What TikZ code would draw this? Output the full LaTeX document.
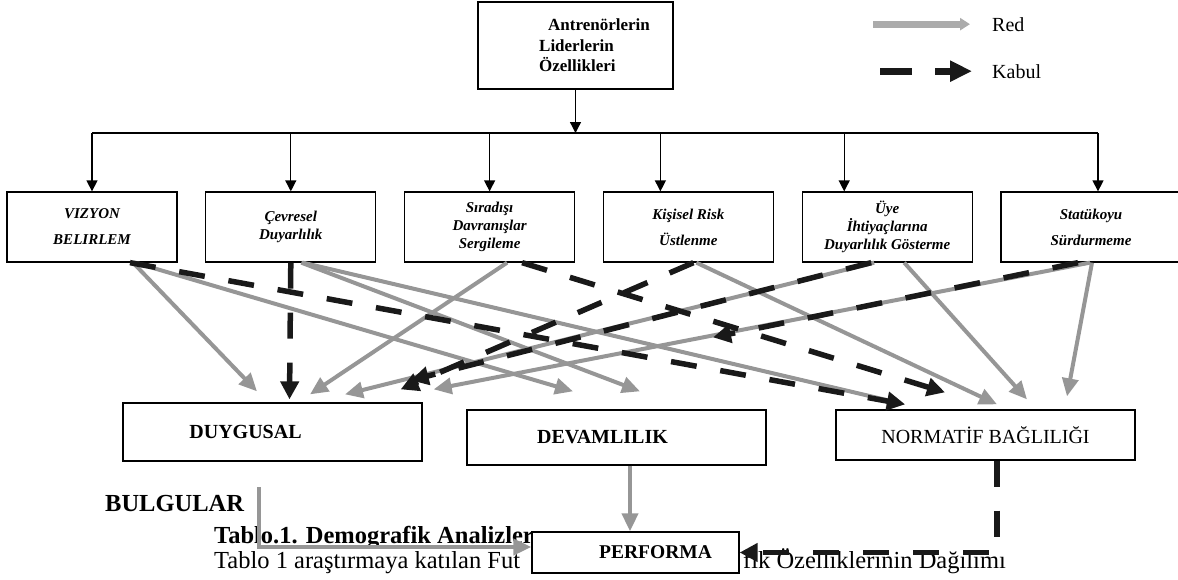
\documentclass[tikz,border=0pt]{standalone}
\usepackage{fontspec}
\setmainfont{Liberation Serif}
\usetikzlibrary{arrows.meta,positioning}
\definecolor{rejectgray}{RGB}{150,150,150}
\definecolor{acceptblack}{RGB}{25,25,25}

\begin{document}
\begin{tikzpicture}[x=1pt,y=-1pt,node distance=27.5pt,factor/.style={draw,line width=1.3pt,minimum width=170pt,minimum height=70pt,inner sep=2pt,align=center,font=\fontsize{15}{18}\selectfont\bfseries\itshape},outcome/.style={draw,line width=1.3pt,minimum width=299pt,inner sep=2pt,font=\fontsize{20}{24}\selectfont},drop/.style={-{Triangle[length=11pt,width=11pt]},line width=1.3pt},reject/.style={-{Triangle[length=18pt,width=16pt]},line width=4pt,draw=rejectgray},accept/.style={-{Triangle[length=18pt,width=18pt]},line width=5.5pt,draw=acceptblack,dash pattern=on 26pt off 24pt},page/.style={anchor=base west,inner sep=0pt,font=\fontsize{24.5}{30}\selectfont}]
\useasboundingbox (0,0) rectangle (1178,579);
\node[draw,line width=1.3pt,minimum width=195pt,minimum height=87pt,align=left,font=\fontsize{17}{20.5}\selectfont\bfseries] (lead) at (575.5,45.5) {\hspace*{47pt}Antrenörlerin\\\hspace*{38pt}Liderlerin\\\hspace*{38pt}Özellikleri};
\node[anchor=base west,inner sep=0pt,font=\fontsize{20}{24}\selectfont] (keyred) at (992,31) {Red};
\node[anchor=base west,inner sep=0pt,font=\fontsize{20}{24}\selectfont] (keykab) at (992,78) {Kabul};
\node[factor] (viz) at (92,227) {VIZYON\\[8pt]BELIRLEM};
\node[factor,right=of viz] (cev) {Çevresel\\Duyarlılık};
\node[factor,right=of cev] (sir) {Sıradışı\\Davranışlar\\Sergileme};
\node[factor,right=of sir] (kis) {Kişisel Risk\\[8pt]Üstlenme};
\node[factor,right=of kis] (uye) {Üye\\İhtiyaçlarına\\Duyarlılık Gösterme};
\node[factor,minimum width=180pt,right=of uye] (sta) {Statükoyu\\[8pt]Sürdurmeme};
\node[outcome,minimum height=58pt] (duy) at (272.5,432) {\bfseries DUYGUSAL\hspace*{54pt}};
\node[outcome,minimum height=55pt] (dev) at (616.5,437.5) {\bfseries DEVAMLILIK\hspace*{28pt}};
\node[outcome,minimum height=50pt] (norm) at (985.5,435) {NORMATİF BAĞLILIĞI};
\node[page,font=\fontsize{24.5}{30}\selectfont\bfseries] (bulg) at (105,511) {BULGULAR};
\node[page,font=\fontsize{24.5}{30}\selectfont\bfseries] (tabhead) at (214,543) {Tablo.1. Demografik Analizler};
\node[page] (tabtext) at (214,568) {Tablo 1 araştırmaya katılan Fut};
\node[page] (tabtail) at (743,568) {fik Özelliklerinin Dağılımı};
\node[draw,line width=1.3pt,fill=white,minimum width=207pt,minimum height=41pt,font=\fontsize{19.5}{23}\selectfont\bfseries] (perf) at (635.5,552.5) {\hspace*{40pt}PERFORMA};
\coordinate (bus) at (575,133);
\coordinate (gapstart) at (259,487);
% legend
\draw[reject,line width=7pt,draw=rejectgray!80,-{Triangle[length=10pt,width=12pt]}] ([xshift=-119pt]keyred.west) -- ([xshift=-22pt]keyred.west);
\draw[accept,line width=7pt,dash pattern=on 32pt off 23pt,-{Triangle[length=22pt,width=20pt]}] ([xshift=-112pt]keykab.west) -- ([xshift=-20pt]keykab.west);
% tree
\draw[drop] (lead) -- (lead |- bus);
\draw[line width=1.3pt] (viz.north |- bus) -- ([xshift=7pt]sta.north |- bus);
\foreach \n/\s in {viz/0,cev/0,sir/0,kis/-28,uye/-43,sta/7}{\draw[drop] ([xshift=\s pt]\n.north |- bus) -- ([xshift=\s pt]\n.north);}
% red
\draw[reject] ([xshift=41pt]viz.south) -- ([xshift=-15.5pt,yshift=11pt]duy.north);
\draw[reject] ([xshift=43pt]viz.south) -- ([xshift=-43.5pt,yshift=18pt]dev.north);
\draw[reject] ([xshift=10.5pt]cev.south) -- ([xshift=23.5pt,yshift=18pt]dev.north);
\draw[reject] ([xshift=12pt]cev.south) -- ([xshift=-80.5pt,yshift=5pt]norm.north);
\draw[reject] ([xshift=17.5pt]sir.south) -- ([xshift=37.5pt,yshift=8pt]duy.north);
\draw[reject] ([xshift=8pt]kis.south) -- ([xshift=11.5pt,yshift=5pt]norm.north);
\draw[reject] ([xshift=17pt]uye.south) -- ([xshift=41.5pt,yshift=10pt]norm.north);
\draw[reject] ([xshift=1pt]sta.south) -- ([xshift=81.5pt,yshift=13pt]norm.north);
\draw[reject] ([xshift=-1pt]sta.south) -- ([xshift=11pt,yshift=13pt]duy.north east);
\draw[reject] ([xshift=-13pt]uye.south) -- ([xshift=72.5pt,yshift=8pt]duy.north);
% kabul
\draw[accept] ([xshift=38pt]viz.south) -- ([xshift=-80.5pt,yshift=5pt]norm.north);
\draw[accept] (cev.south) -- ([xshift=17pt,yshift=3pt]duy.north);
\draw[accept] ([xshift=32.5pt]sir.south) -- ([xshift=-40.5pt,yshift=17pt]norm.north);
\draw[accept] ([xshift=5pt]kis.south) -- ([xshift=-22pt,yshift=13pt]duy.north east);
\draw[accept] ([xshift=-13pt]sta.south) -- ([xshift=96.5pt,yshift=72pt]dev.north);
\draw[accept] ([xshift=-16pt]uye.south) -- ([xshift=-12pt,yshift=22pt]duy.north east);
% performa
\draw[reject] ([xshift=13.5pt]dev.south) -- ([xshift=-5.5pt]perf.north);
\draw[accept] ([xshift=11.5pt]norm.south) |- (perf.east);
\draw[reject] (gapstart) |- ([yshift=5.5pt]perf.west);
\end{tikzpicture}
\end{document}
